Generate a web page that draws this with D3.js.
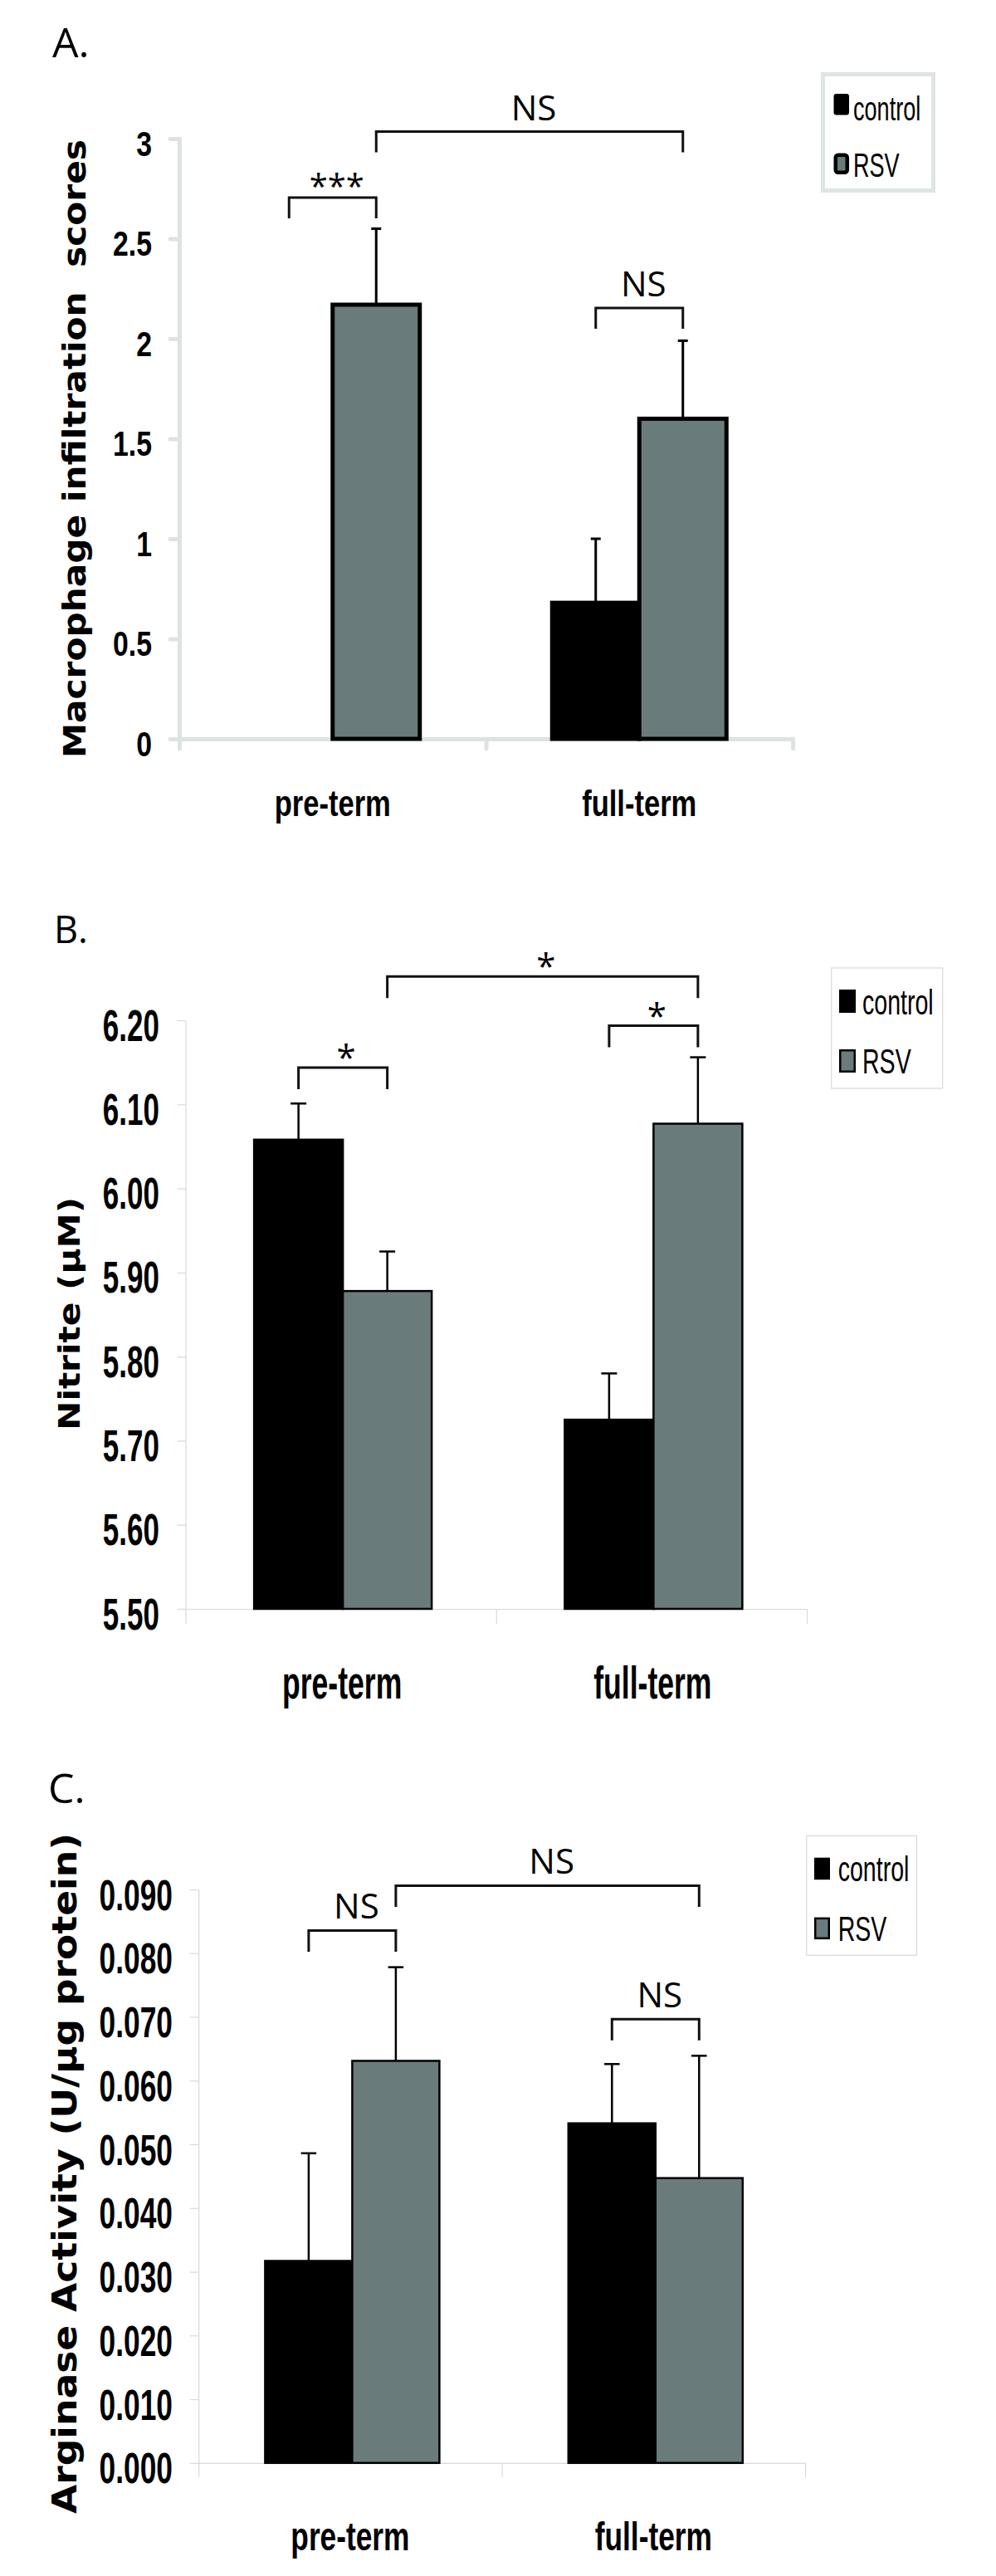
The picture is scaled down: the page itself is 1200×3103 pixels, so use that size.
<!DOCTYPE html>
<html>
<head>
<meta charset="utf-8">
<script src="https://cdn.jsdelivr.net/npm/d3@7"></script>
<style>
  html, body { margin: 0; padding: 0; background: #ffffff; }
  svg { display: block; }
</style>
</head>
<body>
<svg id="chart" width="1200" height="3103"></svg>
<script>
// ---------------- data ----------------
const categories = ["pre-term", "full-term"];
const seriesNames = ["control", "RSV"];
const panelLetters = ["A.", "B.", "C."];
const yTitles = ["Macrophage infiltration  scores", "Nitrite (µM)", "Arginase Activity (U/µg protein)"];

// Panel A: macrophage infiltration scores
const macroControl = [0, 0.68];
const macroControlErr = [0, 0.32];
const macroRSV = [2.17, 1.60];
const macroRSVErr = [0.38, 0.39];
const macroTicks = [0, 0.5, 1, 1.5, 2, 2.5, 3];
const macroTickLabels = ["0", "0.5", "1", "1.5", "2", "2.5", "3"];
const macroDomain = [0, 3];

// Panel B: nitrite (µM)
const nitriteControl = [6.058, 5.725];
const nitriteControlErr = [0.043, 0.055];
const nitriteRSV = [5.878, 6.077];
const nitriteRSVErr = [0.047, 0.079];
const nitriteTicks = [5.5, 5.6, 5.7, 5.8, 5.9, 6.0, 6.1, 6.2];
const nitriteTickLabels = ["5.50", "5.60", "5.70", "5.80", "5.90", "6.00", "6.10", "6.20"];
const nitriteDomain = [5.5, 6.2];

// Panel C: arginase activity (U/µg protein)
const arginaseControl = [0.0317, 0.0533];
const arginaseControlErr = [0.0169, 0.0093];
const arginaseRSV = [0.0631, 0.0447];
const arginaseRSVErr = [0.0147, 0.0192];
const arginaseTicks = [0, 0.01, 0.02, 0.03, 0.04, 0.05, 0.06, 0.07, 0.08, 0.09];
const arginaseTickLabels = ["0.000", "0.010", "0.020", "0.030", "0.040", "0.050", "0.060", "0.070", "0.080", "0.090"];
const arginaseDomain = [0, 0.09];

// significance brackets: [category from, series from, category to, series to, bracket level (data units), label]
const macroSig = [[0, 0, 0, 1, 2.705, "***"], [0, 1, 1, 1, 3.035, "NS"], [1, 0, 1, 1, 2.154, "NS"]];
const nitriteSig = [[0, 0, 0, 1, 6.1437, "*"], [0, 1, 1, 1, 6.252, "*"], [1, 0, 1, 1, 6.1935, "*"]];
const arginaseSig = [[0, 0, 0, 1, 0.08355, "NS"], [0, 1, 1, 1, 0.0906, "NS"], [1, 0, 1, 1, 0.06963, "NS"]];

// ---------------- layout / style ----------------
const seriesFill = ["#000000", "#6a7b7b"];
const BOLD = "'Liberation Sans', Arial, Helvetica, sans-serif";
const TITLEF = "'DejaVu Sans', Verdana, sans-serif";
const PLAIN = "'Open Sans', 'Noto Sans', sans-serif";

const layouts = [
  { x0: 216, x1: 955, yTop: 167, yBottom: 890, barW: 105, shift: 0, barStroke: 5,
    axisColor: "#dde3e2", axisWidth: 5, axisCap: "round", yTickLen: 11, xTickLen: 12,
    tickSize: 42, tickSx: 0.805, tickPad: 33, tickBase: 20,
    catSize: 44, catSx: 0.785, catBase: 983, catShift: 0,
    errWidth: 3, capW: 12,
    legBox: [991.5, 89.5, 133, 140], legStroke: "#dfe5e4", legStrokeW: 5,
    swX: 1004.5, swW: 18.5, swH: 25.5, swY: [113, 184.5], swRx: 3, swStroke: 4.5,
    txtX: 1028, txtBase: [145, 213], legSize: 41, legSx: 0.66,
    letterX: 63, letterY: 69, letterSize: 50,
    titleX: 103, titleCY: 540.5, titleLen: 745, titleSize: 37,
    legLen: 25, sigSize: 42, nsGap: 14, starGap: -1, sigDx: 5 },
  { x0: 223.5, x1: 972, yTop: 1229, yBottom: 1938, barW: 107, shift: 2.5, barStroke: 2.5,
    axisColor: "#d9d9d9", axisWidth: 1.2, axisCap: "butt", yTickLen: 10, xTickLen: 18,
    tickSize: 53, tickSx: 0.66, tickPad: 31.6, tickBase: 24,
    catSize: 56, catSx: 0.635, catBase: 2046, catShift: 1.5,
    errWidth: 2.5, capW: 19,
    legBox: [1001.7, 1166, 134, 145], legStroke: "#d9d9d9", legStrokeW: 1.2,
    swX: 1011, swW: 20, swH: 28, swY: [1192, 1264], swRx: 0, swStroke: 2.5,
    txtX: 1039, txtBase: [1221.7, 1293], legSize: 42, legSx: 0.68,
    letterX: 65, letterY: 1136, letterSize: 45,
    titleX: 96, titleCY: 1582.5, titleLen: 281, titleSize: 36,
    legLen: 26, sigSize: 42, nsGap: 14, starGap: -3, sigDx: 4 },
  { x0: 239.2, x1: 970, yTop: 2276, yBottom: 2966.8, barW: 105, shift: 2.5, barStroke: 2.5,
    axisColor: "#d9d9d9", axisWidth: 1.2, axisCap: "butt", yTickLen: 10.5, xTickLen: 17,
    tickSize: 52, tickSx: 0.68, tickPad: 31.2, tickBase: 24,
    catSize: 48, catSx: 0.735, catBase: 3072, catShift: 0,
    errWidth: 2.5, capW: 18.5,
    legBox: [971.8, 2211.4, 132.6, 143.8], legStroke: "#d9d9d9", legStrokeW: 1.2,
    swX: 981, swW: 19, swH: 26.5, swY: [2237.7, 2309.6], swRx: 0, swStroke: 2.5,
    txtX: 1009.7, txtBase: [2265.7, 2337.6], legSize: 42, legSx: 0.68,
    letterX: 58, letterY: 2171.7, letterSize: 50,
    titleX: 92, titleCY: 2618, titleLen: 820, titleSize: 40,
    legLen: 25.5, sigSize: 42, nsGap: 14.5, starGap: 0, sigDx: 5 }
];

const panels = [
  { letter: panelLetters[0], title: yTitles[0], control: macroControl, controlErr: macroControlErr,
    rsv: macroRSV, rsvErr: macroRSVErr, ticks: macroTicks, tickLabels: macroTickLabels,
    domain: macroDomain, sig: macroSig, L: layouts[0] },
  { letter: panelLetters[1], title: yTitles[1], control: nitriteControl, controlErr: nitriteControlErr,
    rsv: nitriteRSV, rsvErr: nitriteRSVErr, ticks: nitriteTicks, tickLabels: nitriteTickLabels,
    domain: nitriteDomain, sig: nitriteSig, L: layouts[1] },
  { letter: panelLetters[2], title: yTitles[2], control: arginaseControl, controlErr: arginaseControlErr,
    rsv: arginaseRSV, rsvErr: arginaseRSVErr, ticks: arginaseTicks, tickLabels: arginaseTickLabels,
    domain: arginaseDomain, sig: arginaseSig, L: layouts[2] }
];

// horizontally condense text to a fraction of its natural width
function squeeze(sel, sx) {
  sel.each(function () {
    const len = this.getComputedTextLength();
    this.setAttribute("textLength", (len * sx).toFixed(2));
    this.setAttribute("lengthAdjust", "spacingAndGlyphs");
  });
}

const svg = d3.select("#chart");
svg.append("rect").attr("width", 1200).attr("height", 3103).attr("fill", "#ffffff");

panels.forEach(p => {
  const L = p.L;
  const g = svg.append("g");

  const y = d3.scaleLinear().domain(p.domain).range([L.yBottom, L.yTop]);
  const x = d3.scaleBand().domain(categories).range([L.x0, L.x1]).paddingInner(0).paddingOuter(0);
  const xEdge = d3.scaleLinear().domain([0, categories.length]).range([L.x0, L.x1]);
  const center = c => x(c) + x.bandwidth() / 2 + L.shift;
  const seriesCenter = (ci, si) => center(categories[ci]) + (si === 0 ? -L.barW / 2 : L.barW / 2);

  // ---- x axis (category boundaries) ----
  const xAxis = g.append("g").attr("transform", `translate(0,${L.yBottom})`)
    .call(d3.axisBottom(xEdge).tickValues(d3.range(categories.length + 1))
      .tickFormat(() => "").tickSize(L.xTickLen).tickSizeOuter(0));
  xAxis.selectAll("path, line").attr("stroke", L.axisColor).attr("stroke-width", L.axisWidth)
    .attr("stroke-linecap", L.axisCap);

  // ---- y axis ----
  const yAxis = g.append("g").attr("transform", `translate(${L.x0},0)`)
    .call(d3.axisLeft(y).tickValues(p.ticks).tickFormat((d, i) => p.tickLabels[i])
      .tickSize(L.yTickLen).tickSizeOuter(0));
  yAxis.selectAll("path, line").attr("stroke", L.axisColor).attr("stroke-width", L.axisWidth)
    .attr("stroke-linecap", L.axisCap);
  const tickText = yAxis.selectAll(".tick text")
    .attr("x", -L.tickPad).attr("y", L.tickBase).attr("dy", null)
    .attr("fill", "#000").attr("font-family", BOLD).attr("font-weight", "bold")
    .attr("font-size", L.tickSize).attr("text-anchor", "end");
  squeeze(tickText, L.tickSx);

  // ---- category labels ----
  const cat = g.append("g").selectAll("text").data(categories).join("text")
    .attr("x", d => center(d) - L.shift + L.catShift)
    .attr("y", L.catBase)
    .attr("text-anchor", "middle")
    .attr("font-family", BOLD).attr("font-weight", "bold").attr("font-size", L.catSize)
    .attr("fill", "#000")
    .text(d => d);
  squeeze(cat, L.catSx);

  // ---- bars + error bars ----
  const rows = [];
  categories.forEach((c, ci) => {
    rows.push({ ci, si: 0, v: p.control[ci], e: p.controlErr[ci] });
    rows.push({ ci, si: 1, v: p.rsv[ci], e: p.rsvErr[ci] });
  });
  const visible = rows.filter(r => r.v > p.domain[0]);

  const eg = g.append("g").attr("stroke", "#000").attr("stroke-width", L.errWidth);
  visible.filter(r => r.e > 0).forEach(r => {
    const cx = seriesCenter(r.ci, r.si);
    eg.append("line").attr("x1", cx).attr("x2", cx).attr("y1", y(r.v)).attr("y2", y(r.v + r.e));
    eg.append("line").attr("x1", cx - L.capW / 2).attr("x2", cx + L.capW / 2)
      .attr("y1", y(r.v + r.e)).attr("y2", y(r.v + r.e));
  });

  g.append("g").selectAll("rect").data(visible).join("rect")
    .attr("x", r => seriesCenter(r.ci, r.si) - L.barW / 2)
    .attr("width", L.barW)
    .attr("y", r => y(r.v))
    .attr("height", r => y(p.domain[0]) - y(r.v))
    .attr("fill", r => seriesFill[r.si])
    .attr("stroke", "#000").attr("stroke-width", L.barStroke)
    .attr("stroke-linejoin", "miter");

  // ---- significance brackets ----
  const sg = g.append("g");
  p.sig.forEach(s => {
    const xa = seriesCenter(s[0], s[1]);
    const xb = seriesCenter(s[2], s[3]);
    const yl = y(s[4]);
    sg.append("path")
      .attr("d", `M${xa},${yl + L.legLen}V${yl}H${xb}V${yl + L.legLen}`)
      .attr("fill", "none").attr("stroke", "#111").attr("stroke-width", 3);
    const isStar = s[5].indexOf("*") >= 0;
    sg.append("text")
      .attr("x", (xa + xb) / 2 + L.sigDx)
      .attr("y", isStar ? yl - L.starGap : yl - L.nsGap)
      .attr("text-anchor", "middle")
      .attr("font-family", PLAIN).attr("font-size", isStar ? L.sigSize - (s[5].length > 1 ? 2 : 0) : L.sigSize)
      .attr("fill", "#000")
      .text(s[5]);
  });

  // ---- legend ----
  const lg = g.append("g");
  lg.append("rect").attr("x", L.legBox[0]).attr("y", L.legBox[1])
    .attr("width", L.legBox[2]).attr("height", L.legBox[3])
    .attr("fill", "#fff").attr("stroke", L.legStroke).attr("stroke-width", L.legStrokeW);
  seriesNames.forEach((name, si) => {
    if (si === 0) {
      lg.append("rect").attr("x", L.swX).attr("y", L.swY[si]).attr("width", L.swW).attr("height", L.swH)
        .attr("rx", L.swRx).attr("fill", seriesFill[si]);
    } else {
      const h = L.swStroke / 2;
      lg.append("rect").attr("x", L.swX + h).attr("y", L.swY[si] + h)
        .attr("width", L.swW - L.swStroke).attr("height", L.swH - L.swStroke)
        .attr("rx", L.swRx).attr("fill", seriesFill[si])
        .attr("stroke", "#000").attr("stroke-width", L.swStroke);
    }
    const t = lg.append("text").attr("x", L.txtX).attr("y", L.txtBase[si])
      .attr("font-family", BOLD).attr("font-size", L.legSize).attr("fill", "#000")
      .text(name);
    squeeze(t, L.legSx);
  });

  // ---- panel letter ----
  g.append("text").attr("x", L.letterX).attr("y", L.letterY)
    .attr("font-family", PLAIN).attr("font-size", L.letterSize).attr("fill", "#000")
    .text(p.letter);

  // ---- y title ----
  g.append("text")
    .attr("transform", `translate(${L.titleX},${L.titleCY}) rotate(-90)`)
    .attr("text-anchor", "middle")
    .attr("font-family", TITLEF).attr("font-weight", "bold").attr("font-size", L.titleSize)
    .attr("fill", "#000")
    .style("white-space", "pre")
    .attr("textLength", L.titleLen).attr("lengthAdjust", "spacingAndGlyphs")
    .text(p.title);
});
</script>
</body>
</html>
